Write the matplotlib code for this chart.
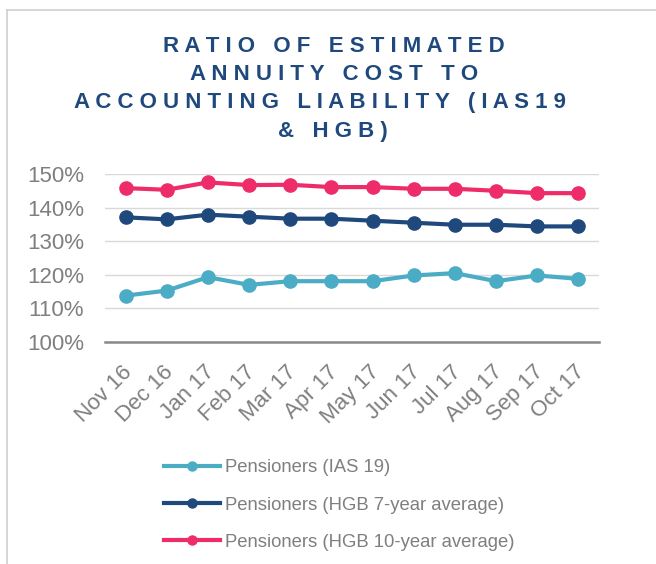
import matplotlib
matplotlib.use("Agg")
import matplotlib.pyplot as plt
import matplotlib.transforms as mtransforms
from matplotlib.lines import Line2D
from matplotlib.ticker import FuncFormatter

months = ["Nov 16", "Dec 16", "Jan 17", "Feb 17", "Mar 17", "Apr 17",
          "May 17", "Jun 17", "Jul 17", "Aug 17", "Sep 17", "Oct 17"]
ias19 = [113.8, 115.3, 119.3, 117.0, 118.1, 118.1, 118.1, 119.8, 120.5, 118.1, 119.8, 118.8]
hgb7 = [137.1, 136.5, 137.9, 137.3, 136.7, 136.7, 136.1, 135.5, 134.9, 134.9, 134.4, 134.4]
hgb10 = [145.8, 145.3, 147.5, 146.7, 146.8, 146.1, 146.1, 145.6, 145.6, 145.0, 144.3, 144.3]
labels = ["Pensioners (IAS 19)", "Pensioners (HGB 7-year average)",
          "Pensioners (HGB 10-year average)"]
colors = ["#4BACC6", "#1F497D", "#EE2C69"]
title_lines = ["RATIO OF ESTIMATED", "ANNUITY COST TO",
               "ACCOUNTING LIABILITY (IAS19", "& HGB)"]

plt.rcParams["font.family"] = ["Liberation Sans", "DejaVu Sans"]
gray = "#7F7F7F"

fig = plt.figure(figsize=(6.56, 5.64), dpi=100)
ax = fig.add_axes([105 / 656, 1 - 342 / 564, 494 / 656, 168 / 564])

x = range(len(months))
for vals, c, lab in zip([ias19, hgb7, hgb10], colors, labels):
    ax.plot(x, vals, color=c, lw=3, marker="o", ms=9.5, label=lab, zorder=3)

ax.set_xlim(-0.5, len(months) - 0.5)
ax.set_ylim(100, 150)
ax.set_yticks(range(100, 151, 10))
ax.yaxis.set_major_formatter(FuncFormatter(lambda v, p: f"{v:.0f}%"))
ax.grid(axis="y", color="#D9D9D9", lw=1)
ax.set_axisbelow(True)
for s in ["top", "right", "left"]:
    ax.spines[s].set_visible(False)
ax.spines["bottom"].set_color("#898989")
ax.spines["bottom"].set_linewidth(1.8)
ax.spines["bottom"].set_zorder(4)
ax.tick_params(axis="y", length=0, pad=15, labelsize=16, labelcolor=gray)
ax.tick_params(axis="x", length=0, pad=14, labelsize=16, labelcolor=gray)
ax.set_xticks(list(x))
ax.set_xticklabels(months, rotation=45, ha="right", rotation_mode="anchor")
shift = mtransforms.ScaledTranslation(-4 / 100, 0, fig.dpi_scale_trans)
for lbl in ax.get_xticklabels():
    lbl.set_transform(lbl.get_transform() + shift)

# spaced-out title, one line at a time
def spaced(s):
    return " ".join(s.replace(" ", "\u00a0"))

title_x = [334, 334, 320, 333]
for i, (t, cx) in enumerate(zip(title_lines, title_x)):
    fig.text(cx / 656, 1 - (52.5 + 28 * i) / 564, spaced(t),
             ha="center", va="baseline", fontsize=16, fontweight="bold",
             color="#1F497D")

leg = ax.legend(loc="upper left", bbox_to_anchor=(157 / 656, 1 - 452 / 564),
                bbox_transform=fig.transFigure, frameon=False, fontsize=13.3,
                handlelength=3.0, handletextpad=0.3, labelspacing=1.09,
                borderaxespad=0, labelcolor=gray)
for h in leg.legend_handles:
    h.set_markersize(6.5)

# outer frame (partially cropped)
fig.add_artist(Line2D([7 / 656, 7 / 656], [0, 1 - 10 / 564],
                      transform=fig.transFigure, color="#D0D0D0", lw=1.2))
fig.add_artist(Line2D([7 / 656, 1], [1 - 10 / 564, 1 - 10 / 564],
                      transform=fig.transFigure, color="#D0D0D0", lw=1.2))

fig.savefig("out.png", dpi=100)
